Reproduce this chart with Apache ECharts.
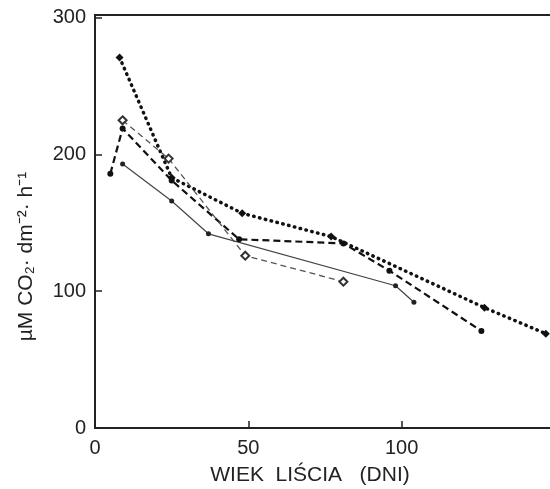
<!DOCTYPE html>
<html>
<head>
<meta charset="utf-8">
<script src="https://cdn.jsdelivr.net/npm/echarts@6/dist/echarts.min.js"></script>
<style>
html,body{margin:0;padding:0;background:#fff;}
#c{width:550px;height:489px;}
</style>
</head>
<body>
<div id="c"></div>
<script>
// Series A: heavy dotted line
const aX = [8, 25, 48, 77, 127, 147];
const aY = [271, 183, 157, 140, 88, 69];
// Series B: heavy dashed line
const bX = [5, 9, 25, 47, 81, 96, 126];
const bY = [186, 219, 181, 138, 135, 115, 71];
// Series C: thin dashed line, open diamonds
const cX = [9, 24, 49, 81];
const cY = [225, 197, 126, 107];
// Series D: thin solid line
const dX = [9, 25, 37, 98, 104];
const dY = [193, 166, 142, 104, 92];

const xTicks = [0, 50, 100];
const yTicks = [0, 100, 200, 300];
const xTitle = 'WIEK  LIŚCIA   (DNI)';
const yTitle = 'µM CO₂· dm⁻²· h⁻¹';

const pairs = (xs, ys) => xs.map((x, i) => [x, ys[i]]);
const FONT = 'Liberation Sans, Arial, sans-serif';

const chart = echarts.init(document.getElementById('c'), null, {renderer: 'canvas'});
chart.setOption({
  animation: false,
  backgroundColor: '#ffffff',
  grid: {left: 95, top: 15, width: 460, height: 413, outerBoundsMode: 'none', containLabel: false,
    show: true, borderColor: '#222', borderWidth: 2, backgroundColor: 'transparent'},
  xAxis: {
    type: 'value', min: 0, max: 150, interval: 50,
    name: xTitle, nameLocation: 'middle', nameGap: 37,
    nameTextStyle: {fontFamily: FONT, fontSize: 21, color: '#222', padding: [0, 30, 0, 0]},
    axisLine: {show: true, lineStyle: {color: '#222', width: 2}},
    axisTick: {show: true, inside: true, length: 7, lineStyle: {color: '#222', width: 1.5}},
    axisLabel: {fontFamily: FONT, fontSize: 20, color: '#222', margin: 10,
      formatter: v => xTicks.includes(v) ? String(v) : ''},
    splitLine: {show: false}
  },
  yAxis: {
    type: 'value', min: 0, max: 302, interval: 100,
    name: yTitle, nameLocation: 'middle', nameGap: 58, nameRotate: 90,
    nameTextStyle: {fontFamily: FONT, fontSize: 21, color: '#222', padding: [0, 70, 0, 0]},
    axisLine: {show: true, lineStyle: {color: '#222', width: 2}},
    axisTick: {show: true, inside: true, length: 7, lineStyle: {color: '#222', width: 1.5}},
    axisLabel: {fontFamily: FONT, fontSize: 20, color: '#222', margin: 9, showMaxLabel: false,
      formatter: v => yTicks.includes(v) ? String(v) : ''},
    splitLine: {show: false}
  },
  series: [
    {
      type: 'line', data: pairs(aX, aY), symbol: 'diamond', symbolSize: 8,
      itemStyle: {color: '#111'},
      lineStyle: {color: '#111', width: 3.5, type: [0.5, 5.5], cap: 'round'}
    },
    {
      type: 'line', data: pairs(bX, bY), symbol: 'circle', symbolSize: 6,
      itemStyle: {color: '#111'},
      lineStyle: {color: '#111', width: 2.2, type: [7, 4]}
    },
    {
      type: 'line', data: pairs(cX, cY), symbol: 'emptyDiamond', symbolSize: 8,
      itemStyle: {color: '#333', borderWidth: 1.5},
      lineStyle: {color: '#555', width: 1.3, type: [6, 4]}
    },
    {
      type: 'line', data: pairs(dX, dY), symbol: 'circle', symbolSize: 5,
      itemStyle: {color: '#222'},
      lineStyle: {color: '#444', width: 1.2, type: 'solid'}
    }
  ]
});
</script>
</body>
</html>
